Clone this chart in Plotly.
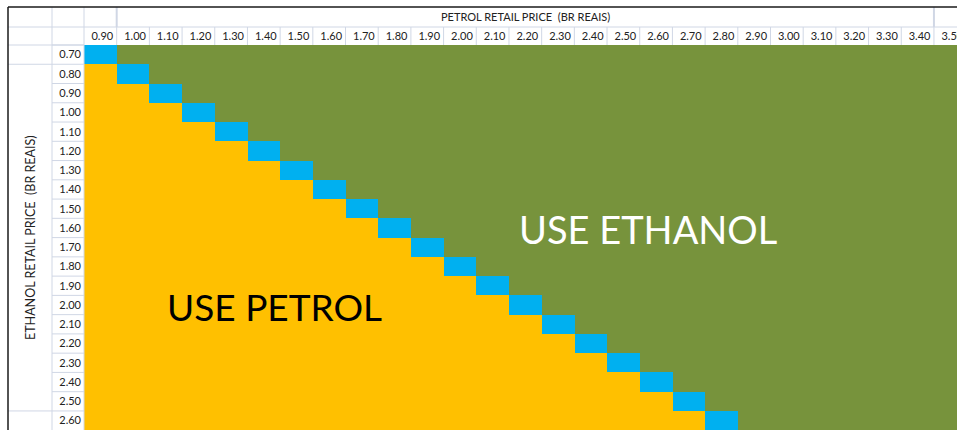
import plotly.graph_objects as go

# ---- data ----
petrol_prices = ["0.90", "1.00", "1.10", "1.20", "1.30", "1.40", "1.50", "1.60", "1.70",
                 "1.80", "1.90", "2.00", "2.10", "2.20", "2.30", "2.40", "2.50", "2.60",
                 "2.70", "2.80", "2.90", "3.00", "3.10", "3.20", "3.30", "3.40", "3.50"]
ethanol_prices = ["0.70", "0.80", "0.90", "1.00", "1.10", "1.20", "1.30", "1.40", "1.50",
                  "1.60", "1.70", "1.80", "1.90", "2.00", "2.10", "2.20", "2.30", "2.40",
                  "2.50", "2.60"]
# petrol price at which each ethanol row is indifferent (blue cell)
indifference_petrol = ["0.90", "1.00", "1.10", "1.20", "1.30", "1.40", "1.50", "1.60", "1.70",
                       "1.80", "1.90", "2.00", "2.10", "2.20", "2.30", "2.40", "2.50", "2.60",
                       "2.70", "2.80"]
x_title = "PETROL RETAIL PRICE\u00a0\u00a0(BR REAIS)"
y_title = "ETHANOL RETAIL PRICE\u00a0\u00a0(BR REAIS)"
label_petrol = "USE PETROL"
label_ethanol = "USE ETHANOL"

# 0 = use petrol, 1 = indifferent, 2 = use ethanol
z = []
for e, ind in zip(ethanol_prices, indifference_petrol):
    ind_i = petrol_prices.index(ind)
    row = []
    for j, p in enumerate(petrol_prices):
        row.append(0 if j < ind_i else (1 if j == ind_i else 2))
    z.append(row)

YELLOW, BLUE, GREEN = "#FFC000", "#00B0F0", "#77933C"
GRID = "#D0D7E5"
FONT = "Lato"

FW, FH = 957, 430
L, T = 84, 45
W, H = FW - L, FH - T
col_px, row_px = 32.69, 19.26

def xp(px):
    return (px - L) / W

def yp(py):
    return (FH - py) / H

fig = go.Figure(go.Heatmap(
    x=petrol_prices, y=ethanol_prices, z=z,
    zmin=0, zmax=2,
    colorscale=[[0, YELLOW], [1/3, YELLOW], [1/3, BLUE], [2/3, BLUE], [2/3, GREEN], [1, GREEN]],
    showscale=False, hoverinfo="skip", xgap=0, ygap=0,
))

shapes = []
def line(x0, y0, x1, y1, color=GRID, w=1):
    shapes.append(dict(type="line", xref="paper", yref="paper",
                       x0=xp(x0), y0=yp(y0), x1=xp(x1), y1=yp(y1),
                       line=dict(color=color, width=w), layer="above"))

# header grid
line(8, 27, FW, 27)
line(8, 45, L, 45)
for k in range(1, len(petrol_prices)):
    px = L + k * col_px
    if px < FW:
        line(px, 27, px, 45)
line(52, 7, 52, FH)
line(L, 7, L, FH)
line(L + col_px, 7, L + col_px, 27, w=2)
line(L + 26 * col_px, 7, L + 26 * col_px, 27, w=2)
# row label column grid
for k in range(0, len(ethanol_prices) + 1):
    py = T + k * row_px
    if py <= FH:
        line(52, py, L, py)
line(8, T + row_px, 52, T + row_px)
line(8, T + 19 * row_px, 52, T + 19 * row_px)
# black outer border
line(8, 7, FW, 7, color="#1a1a1a", w=1.5)
line(8, 7, 8, FH, color="#1a1a1a", w=1.5)

annotations = [
    dict(text=x_title, xref="paper", yref="paper", x=xp(L + 13.5 * col_px), y=yp(17),
         showarrow=False, font=dict(family=FONT, size=11, color="#222"),
         xanchor="center", yanchor="middle"),
    dict(text=y_title, xref="paper", yref="paper", x=xp(30), y=yp(238), textangle=-90,
         showarrow=False, font=dict(family=FONT, size=12.5, color="#222"),
         xanchor="center", yanchor="middle"),
    dict(text=label_petrol, xref="paper", yref="paper", x=xp(274), y=yp(306),
         showarrow=False, font=dict(family=FONT, size=37, color="#000"),
         xanchor="center", yanchor="middle"),
    dict(text=label_ethanol, xref="paper", yref="paper", x=xp(648), y=yp(229),
         showarrow=False, font=dict(family=FONT, size=38, color="#fff"),
         xanchor="center", yanchor="middle"),
]

fig.update_layout(
    width=FW, height=FH, autosize=False,
    margin=dict(l=L, r=0, t=T, b=0, pad=0, autoexpand=False),
    paper_bgcolor="white", plot_bgcolor="white",
    shapes=shapes, annotations=annotations,
    xaxis=dict(side="top", type="category", range=[-0.5, -0.5 + W / col_px],
               automargin=False,
               tickmode="array", tickvals=petrol_prices, ticktext=petrol_prices,
               showgrid=False, zeroline=False, showline=False, ticks="",
               ticklabelshift=2, ticklabelstandoff=2,
               tickfont=dict(family=FONT, size=11, color="#222")),
    yaxis=dict(type="category", range=[-0.5 + H / row_px, -0.5],
               automargin=False,
               tickmode="array", tickvals=ethanol_prices, ticktext=ethanol_prices,
               showgrid=False, zeroline=False, showline=False, ticks="",
               ticklabelstandoff=2,
               tickfont=dict(family=FONT, size=11, color="#222")),
)

fig.write_html("out.html")
